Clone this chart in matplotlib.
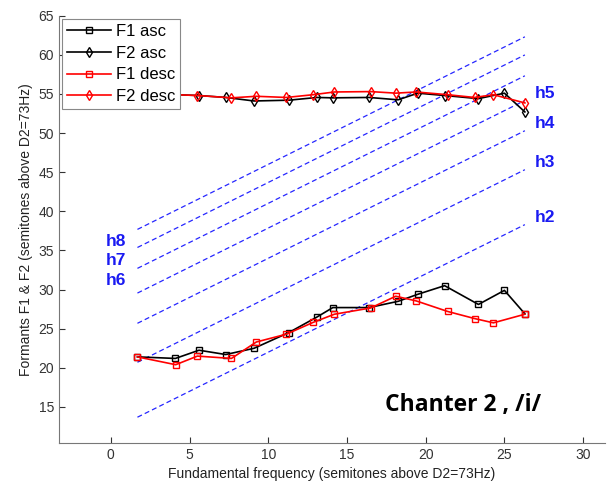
import numpy as np
import matplotlib
matplotlib.use("Agg")
import matplotlib.pyplot as plt

plt.rcParams["font.family"] = ["Liberation Sans", "DejaVu Sans"]

# semitones above D2=73Hz
f0_asc = [1.69, 4.1, 5.6, 7.3, 9.1, 11.3, 13.1, 14.1, 16.4, 18.25, 19.5, 21.2, 23.35, 25.0, 26.3]
f1_asc = [21.4, 21.2, 22.25, 21.7, 22.5, 24.5, 26.5, 27.7, 27.7, 28.5, 29.4, 30.5, 28.1, 29.9, 26.9]
f2_asc = [55.0, 54.9, 54.8, 54.55, 54.1, 54.2, 54.55, 54.5, 54.55, 54.25, 55.1, 54.8, 54.4, 55.1, 52.7]

f0_desc = [1.69, 4.12, 5.5, 7.66, 9.24, 11.15, 12.84, 14.2, 16.5, 18.1, 19.4, 21.4, 23.1, 24.3, 26.3]
f1_desc = [21.4, 20.4, 21.5, 21.2, 23.3, 24.3, 25.8, 26.85, 27.65, 29.15, 28.55, 27.2, 26.3, 25.75, 26.85]
f2_desc = [55.0, 54.9, 54.8, 54.5, 54.7, 54.55, 54.9, 55.25, 55.3, 55.1, 55.25, 54.9, 54.55, 54.9, 53.85]

harmonics = [2, 3, 4, 5, 6, 7, 8]
h_range = [1.69, 26.3]

fig = plt.figure(figsize=(6.07, 4.9), dpi=100)
ax = fig.add_axes([0.097, 0.096, 0.9, 0.872])

# harmonic lines: F = f0 + 12*log2(n)
for n in harmonics:
    hx = np.array(h_range)
    hy = hx + 12 * np.log2(n)
    ax.plot(hx, hy, color=(0.15, 0.15, 1.0), lw=0.9, dashes=(4, 2.5))
    if n <= 5:
        ax.text(hx[1] + 0.6, hy[1] + 0.9, "h%d" % n, color=(0.1, 0.1, 0.95),
                fontsize=12.5, fontweight="bold", va="center", ha="left")
    else:
        ax.text(hx[0] - 2.0, hy[0] - 1.6, "h%d" % n, color=(0.1, 0.1, 0.95),
                fontsize=12.5, fontweight="bold", va="center", ha="left")

mk = dict(ms=5, mfc="none", mew=1.0, lw=1.2)
ax.plot(f0_asc, f1_asc, "-s", color="black", label="F1 asc", **mk)
ax.plot(f0_asc, f2_asc, "-d", color="black", label="F2 asc", **mk)
ax.plot(f0_desc, f1_desc, "-s", color="red", label="F1 desc", **mk)
ax.plot(f0_desc, f2_desc, "-d", color="red", label="F2 desc", **mk)

ax.text(17.4, 15.3, "Chanter 2 , /i/", fontsize=16.5, fontweight="bold",
        family=["Open Sans", "DejaVu Sans"], va="center", ha="left")

ax.set_xlim(-3.3, 31.4)
ax.set_ylim(10.4, 65)
ax.set_xticks(range(0, 31, 5))
ax.set_yticks(range(15, 66, 5))
ax.tick_params(direction="in", labelsize=10, colors="#333333", length=4)
for s in ["top", "right"]:
    ax.spines[s].set_visible(False)
for s in ["left", "bottom"]:
    ax.spines[s].set_color("#777777")

ax.set_xlabel("Fundamental frequency (semitones above D2=73Hz)", fontsize=10, color="#222222", labelpad=4)
ax.set_ylabel("Formants F1 & F2 (semitones above D2=73Hz)", fontsize=10, color="#222222", labelpad=4)

leg = ax.legend(loc="upper left", fontsize=12, frameon=True, fancybox=False,
                framealpha=1.0, edgecolor="#888888", borderaxespad=0.2,
                handlelength=2.6, handletextpad=0.3, labelspacing=0.4, borderpad=0.3)
leg.get_frame().set_linewidth(0.8)

fig.savefig("out.png", dpi=100)
